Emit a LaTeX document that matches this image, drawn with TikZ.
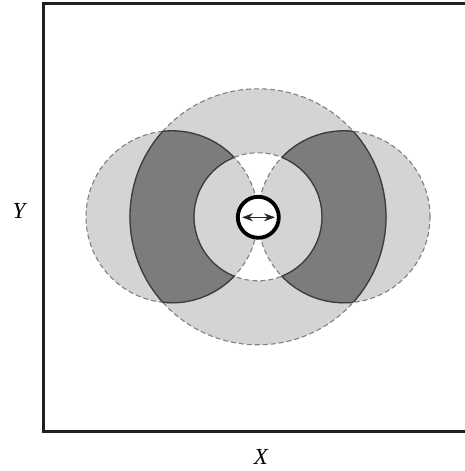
\documentclass[tikz,border=0pt]{standalone}
\usepackage{fontspec}
\setmainfont{Liberation Serif}
\usetikzlibrary{arrows.meta}
\definecolor{lightg}{RGB}{212,212,214}
\definecolor{darkg}{RGB}{124,124,126}
\definecolor{dashg}{RGB}{128,128,128}
\definecolor{lineg}{RGB}{60,60,60}
\definecolor{framec}{RGB}{35,31,32}
\begin{document}
\begin{tikzpicture}[x=1pt,y=-1pt,
  dashline/.style={draw=dashg, line width=1.1pt, dash pattern=on 5pt off 3pt},
  solidline/.style={draw=lineg, line width=1.3pt},
  lbl/.style={font=\fontsize{23}{26}\selectfont\itshape, inner sep=0pt}]
\useasboundingbox (0,0) rectangle (464,471);
\coordinate (O) at (258,216.8);
\coordinate (L) at (172,216.8);
\coordinate (R) at (344,216.8);
% light fill: union of big circle and lobes
\fill[lightg] (O) circle[radius=128pt] (L) circle[radius=86pt] (R) circle[radius=86pt];
% white: inner circle outside the lobes
\fill[white] (O) circle[radius=64pt];
\begin{scope}
  \clip (O) circle[radius=64pt];
  \fill[lightg] (L) circle[radius=86pt] (R) circle[radius=86pt];
\end{scope}
% dark: lobes within annulus
\begin{scope}
  \clip (L) circle[radius=86pt] (R) circle[radius=86pt];
  \fill[darkg, even odd rule] (O) circle[radius=128pt] (O) circle[radius=64pt];
\end{scope}
% dashed outlines
\draw[dashline] (O) circle[radius=128pt];
\draw[dashline] (O) circle[radius=64pt];
\draw[dashline] (L) circle[radius=86pt];
\draw[dashline] (R) circle[radius=86pt];
% solid outlines of the dark regions
\begin{scope}
  \clip (L) circle[radius=86pt] (R) circle[radius=86pt];
  \draw[solidline] (O) circle[radius=128pt];
  \draw[solidline] (O) circle[radius=64pt];
\end{scope}
\begin{scope}[even odd rule]
  \clip (O) circle[radius=128pt] (O) circle[radius=64pt];
  \draw[solidline] (L) circle[radius=86pt];
  \draw[solidline] (R) circle[radius=86pt];
\end{scope}
% source
\node[circle, draw=black, line width=3.8pt, fill=white, minimum size=41pt, inner sep=0pt] (src) at (258.3,217.3) {};
\coordinate (a1) at (242,217.3);
\coordinate (a2) at (275,217.3);
\draw[{Stealth[length=11pt,width=8pt]}-{Stealth[length=11pt,width=8pt]}, line width=1.1pt, draw=black!85] (a1) -- (a2);
% frame
\draw[framec, line width=3pt, line join=miter] (466,3.2) -- (43.8,3.2) -- (43.8,431.5) -- (466,431.5);
% labels
\node[lbl] (ylab) at (19,211) {Y};
\node[lbl] (xlab) at (261,457) {X};
\end{tikzpicture}
\end{document}
